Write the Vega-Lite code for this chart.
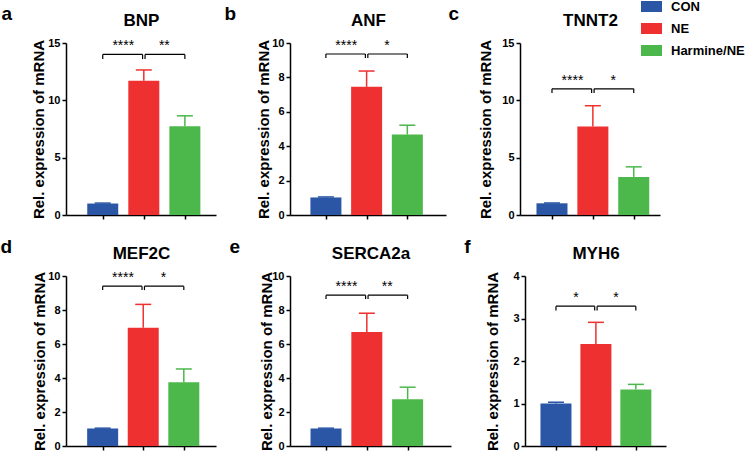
{
  "$schema": "https://vega.github.io/schema/vega-lite/v6.json",
  "padding": {"left": 0, "top": 0, "right": 0, "bottom": 0},
  "spacing": 18,
  "config": {
    "font": "Liberation Sans",
    "view": {"stroke": null},
    "axis": {"domainColor": "#000", "domainWidth": 1.5, "tickColor": "#000", "tickWidth": 1.5, "tickSize": 4, "labelColor": "#000", "labelFont": "Liberation Sans", "labelFontWeight": "bold", "labelFontSize": 11, "labelPadding": 2, "titleColor": "#000", "titleFont": "Liberation Sans", "titleFontWeight": "bold", "titleFontSize": 15, "titlePadding": 5, "grid": false},
    "title": {"orient": "left", "angle": 0, "anchor": "end", "frame": "bounds", "align": "right", "baseline": "top", "offset": 9, "dy": -6, "fontSize": 19, "fontWeight": "bold", "color": "#000", "font": "Liberation Sans"},
    "legend": {"orient": "none", "legendX": 579, "legendY": -43, "padding": 0, "title": null, "symbolType": "M-2,-1.05H2V1.05H-2Z", "symbolSize": 110, "symbolStrokeWidth": 0, "symbolOpacity": 1, "labelFontSize": 13, "labelFontWeight": "bold", "labelColor": "#000", "labelFont": "Liberation Sans", "labelOffset": 13, "rowPadding": 8}
  },
  "datasets": {
    "bars": [
      {"gene": "BNP", "group": "CON", "idx": 1, "mean": 1.0, "upper": 1.04},
      {"gene": "BNP", "group": "NE", "idx": 2, "mean": 11.7, "upper": 12.65},
      {"gene": "BNP", "group": "Harmine/NE", "idx": 3, "mean": 7.75, "upper": 8.65},
      {"gene": "ANF", "group": "CON", "idx": 1, "mean": 1.02, "upper": 1.05},
      {"gene": "ANF", "group": "NE", "idx": 2, "mean": 7.45, "upper": 8.37},
      {"gene": "ANF", "group": "Harmine/NE", "idx": 3, "mean": 4.68, "upper": 5.22},
      {"gene": "TNNT2", "group": "CON", "idx": 1, "mean": 1.02, "upper": 1.05},
      {"gene": "TNNT2", "group": "NE", "idx": 2, "mean": 7.72, "upper": 9.53},
      {"gene": "TNNT2", "group": "Harmine/NE", "idx": 3, "mean": 3.32, "upper": 4.2},
      {"gene": "MEF2C", "group": "CON", "idx": 1, "mean": 1.03, "upper": 1.05},
      {"gene": "MEF2C", "group": "NE", "idx": 2, "mean": 6.95, "upper": 8.33},
      {"gene": "MEF2C", "group": "Harmine/NE", "idx": 3, "mean": 3.75, "upper": 4.53},
      {"gene": "SERCA2a", "group": "CON", "idx": 1, "mean": 1.03, "upper": 1.05},
      {"gene": "SERCA2a", "group": "NE", "idx": 2, "mean": 6.7, "upper": 7.81},
      {"gene": "SERCA2a", "group": "Harmine/NE", "idx": 3, "mean": 2.75, "upper": 3.46},
      {"gene": "MYH6", "group": "CON", "idx": 1, "mean": 1.0, "upper": 1.03},
      {"gene": "MYH6", "group": "NE", "idx": 2, "mean": 2.4, "upper": 2.91},
      {"gene": "MYH6", "group": "Harmine/NE", "idx": 3, "mean": 1.33, "upper": 1.45}
    ],
    "sig": [
      {"gene": "BNP", "a": 1, "b": 1.97, "mid": 1.5, "h": 14.0, "low": 13.6, "label": "****"},
      {"gene": "BNP", "a": 2.03, "b": 3, "mid": 2.5, "h": 14.0, "low": 13.6, "label": "**"},
      {"gene": "ANF", "a": 1, "b": 1.97, "mid": 1.5, "h": 9.36, "low": 9.13, "label": "****"},
      {"gene": "ANF", "a": 2.03, "b": 3, "mid": 2.5, "h": 9.36, "low": 9.13, "label": "*"},
      {"gene": "TNNT2", "a": 1, "b": 1.97, "mid": 1.5, "h": 11.0, "low": 10.65, "label": "****"},
      {"gene": "TNNT2", "a": 2.03, "b": 3, "mid": 2.5, "h": 11.0, "low": 10.65, "label": "*"},
      {"gene": "MEF2C", "a": 1, "b": 1.97, "mid": 1.5, "h": 9.4, "low": 9.17, "label": "****"},
      {"gene": "MEF2C", "a": 2.03, "b": 3, "mid": 2.5, "h": 9.4, "low": 9.17, "label": "*"},
      {"gene": "SERCA2a", "a": 1, "b": 1.97, "mid": 1.5, "h": 8.87, "low": 8.64, "label": "****"},
      {"gene": "SERCA2a", "a": 2.03, "b": 3, "mid": 2.5, "h": 8.87, "low": 8.64, "label": "**"},
      {"gene": "MYH6", "a": 1, "b": 1.97, "mid": 1.5, "h": 3.29, "low": 3.19, "label": "*"},
      {"gene": "MYH6", "a": 2.03, "b": 3, "mid": 2.5, "h": 3.29, "low": 3.19, "label": "*"}
    ]
  },
  "vconcat": [
    {"bounds": "flush", "spacing": 74, "hconcat": [
      {"width": 150, "height": 172, "title": {"text": "a"}, "resolve": {"axis": {"x": "independent", "y": "independent"}},
       "layer": [
        {"data": {"name": "bars"}, "transform": [{"filter": "datum.gene === 'BNP'"}], "mark": {"type": "rule", "strokeWidth": 1.5},
         "encoding": {"x": {"field": "idx", "type": "quantitative", "scale": {"domain": [0.227, 3.636], "nice": false, "zero": false}, "axis": {"orient": "top", "domain": false, "ticks": false, "labels": false, "title": "BNP", "titleFontSize": 17, "titlePadding": 14}},
          "y": {"field": "mean", "type": "quantitative", "scale": {"domain": [0, 15], "nice": false}, "axis": {"values": [0, 5, 10, 15], "title": "Rel. expression of mRNA", "titlePadding": 1}},
          "y2": {"field": "upper"},
          "color": {"field": "group", "type": "nominal", "scale": {"domain": ["CON", "NE", "Harmine/NE"], "range": ["#2a56a5", "#ee3130", "#4cb74a"]}}}},
        {"data": {"name": "bars"}, "transform": [{"filter": "datum.gene === 'BNP'"}], "mark": {"type": "tick", "orient": "horizontal", "size": 16, "thickness": 1.5, "opacity": 1},
         "encoding": {"x": {"field": "idx", "type": "quantitative", "axis": null}, "y": {"field": "upper", "type": "quantitative", "axis": null}, "color": {"field": "group", "type": "nominal"}}},
        {"data": {"name": "bars"}, "transform": [{"filter": "datum.gene === 'BNP'"}], "mark": {"type": "bar", "width": 31},
         "encoding": {"x": {"field": "idx", "type": "quantitative", "axis": {"orient": "bottom", "values": [1, 2, 3], "labels": false, "title": null}}, "y": {"field": "mean", "type": "quantitative", "axis": null}, "color": {"field": "group", "type": "nominal"}}},
        {"data": {"name": "sig"}, "transform": [{"filter": "datum.gene === 'BNP'"}], "mark": {"type": "rule", "strokeWidth": 1.2, "color": "#000"},
         "encoding": {"x": {"field": "a", "type": "quantitative", "axis": null}, "x2": {"field": "b"}, "y": {"field": "h", "type": "quantitative", "axis": null}}},
        {"data": {"name": "sig"}, "transform": [{"filter": "datum.gene === 'BNP'"}], "mark": {"type": "rule", "strokeWidth": 1.2, "color": "#000"},
         "encoding": {"x": {"field": "a", "type": "quantitative", "axis": null}, "y": {"field": "h", "type": "quantitative", "axis": null}, "y2": {"field": "low"}}},
        {"data": {"name": "sig"}, "transform": [{"filter": "datum.gene === 'BNP'"}], "mark": {"type": "rule", "strokeWidth": 1.2, "color": "#000"},
         "encoding": {"x": {"field": "b", "type": "quantitative", "axis": null}, "y": {"field": "h", "type": "quantitative", "axis": null}, "y2": {"field": "low"}}},
        {"data": {"name": "sig"}, "transform": [{"filter": "datum.gene === 'BNP'"}], "mark": {"type": "text", "fontSize": 14, "baseline": "bottom", "dy": -1, "color": "#000"},
         "encoding": {"x": {"field": "mid", "type": "quantitative", "axis": null}, "y": {"field": "h", "type": "quantitative", "axis": null}, "text": {"field": "label"}}}
       ]},
      {"width": 156, "height": 172, "title": {"text": "b"}, "resolve": {"axis": {"x": "independent", "y": "independent"}},
       "layer": [
        {"data": {"name": "bars"}, "transform": [{"filter": "datum.gene === 'ANF'"}], "mark": {"type": "rule", "strokeWidth": 1.5},
         "encoding": {"x": {"field": "idx", "type": "quantitative", "scale": {"domain": [0.241, 3.827], "nice": false, "zero": false}, "axis": {"orient": "top", "domain": false, "ticks": false, "labels": false, "title": "ANF", "titleFontSize": 17, "titlePadding": 14}},
          "y": {"field": "mean", "type": "quantitative", "scale": {"domain": [0, 10], "nice": false}, "axis": {"values": [0, 2, 4, 6, 8, 10], "title": "Rel. expression of mRNA", "titlePadding": 0}},
          "y2": {"field": "upper"},
          "color": {"field": "group", "type": "nominal", "scale": {"domain": ["CON", "NE", "Harmine/NE"], "range": ["#2a56a5", "#ee3130", "#4cb74a"]}}}},
        {"data": {"name": "bars"}, "transform": [{"filter": "datum.gene === 'ANF'"}], "mark": {"type": "tick", "orient": "horizontal", "size": 16, "thickness": 1.5, "opacity": 1},
         "encoding": {"x": {"field": "idx", "type": "quantitative", "axis": null}, "y": {"field": "upper", "type": "quantitative", "axis": null}, "color": {"field": "group", "type": "nominal"}}},
        {"data": {"name": "bars"}, "transform": [{"filter": "datum.gene === 'ANF'"}], "mark": {"type": "bar", "width": 31},
         "encoding": {"x": {"field": "idx", "type": "quantitative", "axis": {"orient": "bottom", "values": [1, 2, 3], "labels": false, "title": null}}, "y": {"field": "mean", "type": "quantitative", "axis": null}, "color": {"field": "group", "type": "nominal"}}},
        {"data": {"name": "sig"}, "transform": [{"filter": "datum.gene === 'ANF'"}], "mark": {"type": "rule", "strokeWidth": 1.2, "color": "#000"},
         "encoding": {"x": {"field": "a", "type": "quantitative", "axis": null}, "x2": {"field": "b"}, "y": {"field": "h", "type": "quantitative", "axis": null}}},
        {"data": {"name": "sig"}, "transform": [{"filter": "datum.gene === 'ANF'"}], "mark": {"type": "rule", "strokeWidth": 1.2, "color": "#000"},
         "encoding": {"x": {"field": "a", "type": "quantitative", "axis": null}, "y": {"field": "h", "type": "quantitative", "axis": null}, "y2": {"field": "low"}}},
        {"data": {"name": "sig"}, "transform": [{"filter": "datum.gene === 'ANF'"}], "mark": {"type": "rule", "strokeWidth": 1.2, "color": "#000"},
         "encoding": {"x": {"field": "b", "type": "quantitative", "axis": null}, "y": {"field": "h", "type": "quantitative", "axis": null}, "y2": {"field": "low"}}},
        {"data": {"name": "sig"}, "transform": [{"filter": "datum.gene === 'ANF'"}], "mark": {"type": "text", "fontSize": 14, "baseline": "bottom", "dy": -1, "color": "#000"},
         "encoding": {"x": {"field": "mid", "type": "quantitative", "axis": null}, "y": {"field": "h", "type": "quantitative", "axis": null}, "text": {"field": "label"}}}
       ]},
      {"width": 140, "height": 172, "title": {"text": "c"}, "resolve": {"axis": {"x": "independent", "y": "independent"}},
       "layer": [
        {"data": {"name": "bars"}, "transform": [{"filter": "datum.gene === 'TNNT2'"}], "mark": {"type": "rule", "strokeWidth": 1.5},
         "encoding": {"x": {"field": "idx", "type": "quantitative", "scale": {"domain": [0.34, 3.52], "nice": false, "zero": false}, "axis": {"orient": "top", "domain": false, "ticks": false, "labels": false, "title": "TNNT2", "titleFontSize": 17, "titlePadding": 14}},
          "y": {"field": "mean", "type": "quantitative", "scale": {"domain": [0, 15], "nice": false}, "axis": {"values": [0, 5, 10, 15], "title": "Rel. expression of mRNA", "titlePadding": 8}},
          "y2": {"field": "upper"},
          "color": {"field": "group", "type": "nominal", "scale": {"domain": ["CON", "NE", "Harmine/NE"], "range": ["#2a56a5", "#ee3130", "#4cb74a"]}}}},
        {"data": {"name": "bars"}, "transform": [{"filter": "datum.gene === 'TNNT2'"}], "mark": {"type": "tick", "orient": "horizontal", "size": 16, "thickness": 1.5, "opacity": 1},
         "encoding": {"x": {"field": "idx", "type": "quantitative", "axis": null}, "y": {"field": "upper", "type": "quantitative", "axis": null}, "color": {"field": "group", "type": "nominal"}}},
        {"data": {"name": "bars"}, "transform": [{"filter": "datum.gene === 'TNNT2'"}], "mark": {"type": "bar", "width": 31},
         "encoding": {"x": {"field": "idx", "type": "quantitative", "axis": {"orient": "bottom", "values": [1, 2, 3], "labels": false, "title": null}}, "y": {"field": "mean", "type": "quantitative", "axis": null}, "color": {"field": "group", "type": "nominal"}}},
        {"data": {"name": "sig"}, "transform": [{"filter": "datum.gene === 'TNNT2'"}], "mark": {"type": "rule", "strokeWidth": 1.2, "color": "#000"},
         "encoding": {"x": {"field": "a", "type": "quantitative", "axis": null}, "x2": {"field": "b"}, "y": {"field": "h", "type": "quantitative", "axis": null}}},
        {"data": {"name": "sig"}, "transform": [{"filter": "datum.gene === 'TNNT2'"}], "mark": {"type": "rule", "strokeWidth": 1.2, "color": "#000"},
         "encoding": {"x": {"field": "a", "type": "quantitative", "axis": null}, "y": {"field": "h", "type": "quantitative", "axis": null}, "y2": {"field": "low"}}},
        {"data": {"name": "sig"}, "transform": [{"filter": "datum.gene === 'TNNT2'"}], "mark": {"type": "rule", "strokeWidth": 1.2, "color": "#000"},
         "encoding": {"x": {"field": "b", "type": "quantitative", "axis": null}, "y": {"field": "h", "type": "quantitative", "axis": null}, "y2": {"field": "low"}}},
        {"data": {"name": "sig"}, "transform": [{"filter": "datum.gene === 'TNNT2'"}], "mark": {"type": "text", "fontSize": 14, "baseline": "bottom", "dy": -1, "color": "#000"},
         "encoding": {"x": {"field": "mid", "type": "quantitative", "axis": null}, "y": {"field": "h", "type": "quantitative", "axis": null}, "text": {"field": "label"}}}
       ]}
    ]},
    {"bounds": "flush", "spacing": 74, "hconcat": [
      {"width": 150, "height": 170, "title": {"text": "d"}, "resolve": {"axis": {"x": "independent", "y": "independent"}},
       "layer": [
        {"data": {"name": "bars"}, "transform": [{"filter": "datum.gene === 'MEF2C'"}], "mark": {"type": "rule", "strokeWidth": 1.5},
         "encoding": {"x": {"field": "idx", "type": "quantitative", "scale": {"domain": [0.22, 3.67], "nice": false, "zero": false}, "axis": {"orient": "top", "domain": false, "ticks": false, "labels": false, "title": "MEF2C", "titleFontSize": 17, "titlePadding": 14}},
          "y": {"field": "mean", "type": "quantitative", "scale": {"domain": [0, 10], "nice": false}, "axis": {"values": [0, 2, 4, 6, 8, 10], "title": "Rel. expression of mRNA", "titlePadding": 0}},
          "y2": {"field": "upper"},
          "color": {"field": "group", "type": "nominal", "scale": {"domain": ["CON", "NE", "Harmine/NE"], "range": ["#2a56a5", "#ee3130", "#4cb74a"]}}}},
        {"data": {"name": "bars"}, "transform": [{"filter": "datum.gene === 'MEF2C'"}], "mark": {"type": "tick", "orient": "horizontal", "size": 16, "thickness": 1.5, "opacity": 1},
         "encoding": {"x": {"field": "idx", "type": "quantitative", "axis": null}, "y": {"field": "upper", "type": "quantitative", "axis": null}, "color": {"field": "group", "type": "nominal"}}},
        {"data": {"name": "bars"}, "transform": [{"filter": "datum.gene === 'MEF2C'"}], "mark": {"type": "bar", "width": 31},
         "encoding": {"x": {"field": "idx", "type": "quantitative", "axis": {"orient": "bottom", "values": [1, 2, 3], "labels": false, "title": null}}, "y": {"field": "mean", "type": "quantitative", "axis": null}, "color": {"field": "group", "type": "nominal"}}},
        {"data": {"name": "sig"}, "transform": [{"filter": "datum.gene === 'MEF2C'"}], "mark": {"type": "rule", "strokeWidth": 1.2, "color": "#000"},
         "encoding": {"x": {"field": "a", "type": "quantitative", "axis": null}, "x2": {"field": "b"}, "y": {"field": "h", "type": "quantitative", "axis": null}}},
        {"data": {"name": "sig"}, "transform": [{"filter": "datum.gene === 'MEF2C'"}], "mark": {"type": "rule", "strokeWidth": 1.2, "color": "#000"},
         "encoding": {"x": {"field": "a", "type": "quantitative", "axis": null}, "y": {"field": "h", "type": "quantitative", "axis": null}, "y2": {"field": "low"}}},
        {"data": {"name": "sig"}, "transform": [{"filter": "datum.gene === 'MEF2C'"}], "mark": {"type": "rule", "strokeWidth": 1.2, "color": "#000"},
         "encoding": {"x": {"field": "b", "type": "quantitative", "axis": null}, "y": {"field": "h", "type": "quantitative", "axis": null}, "y2": {"field": "low"}}},
        {"data": {"name": "sig"}, "transform": [{"filter": "datum.gene === 'MEF2C'"}], "mark": {"type": "text", "fontSize": 14, "baseline": "bottom", "dy": -1, "color": "#000"},
         "encoding": {"x": {"field": "mid", "type": "quantitative", "axis": null}, "y": {"field": "h", "type": "quantitative", "axis": null}, "text": {"field": "label"}}}
       ]},
      {"width": 161, "height": 170, "title": {"text": "e"}, "resolve": {"axis": {"x": "independent", "y": "independent"}},
       "layer": [
        {"data": {"name": "bars"}, "transform": [{"filter": "datum.gene === 'SERCA2a'"}], "mark": {"type": "rule", "strokeWidth": 1.5},
         "encoding": {"x": {"field": "idx", "type": "quantitative", "scale": {"domain": [0.24, 3.94], "nice": false, "zero": false}, "axis": {"orient": "top", "domain": false, "ticks": false, "labels": false, "title": "SERCA2a", "titleFontSize": 17, "titlePadding": 14}},
          "y": {"field": "mean", "type": "quantitative", "scale": {"domain": [0, 10], "nice": false}, "axis": {"values": [0, 2, 4, 6, 8, 10], "title": "Rel. expression of mRNA", "titlePadding": -3}},
          "y2": {"field": "upper"},
          "color": {"field": "group", "type": "nominal", "scale": {"domain": ["CON", "NE", "Harmine/NE"], "range": ["#2a56a5", "#ee3130", "#4cb74a"]}}}},
        {"data": {"name": "bars"}, "transform": [{"filter": "datum.gene === 'SERCA2a'"}], "mark": {"type": "tick", "orient": "horizontal", "size": 16, "thickness": 1.5, "opacity": 1},
         "encoding": {"x": {"field": "idx", "type": "quantitative", "axis": null}, "y": {"field": "upper", "type": "quantitative", "axis": null}, "color": {"field": "group", "type": "nominal"}}},
        {"data": {"name": "bars"}, "transform": [{"filter": "datum.gene === 'SERCA2a'"}], "mark": {"type": "bar", "width": 31},
         "encoding": {"x": {"field": "idx", "type": "quantitative", "axis": {"orient": "bottom", "values": [1, 2, 3], "labels": false, "title": null}}, "y": {"field": "mean", "type": "quantitative", "axis": null}, "color": {"field": "group", "type": "nominal"}}},
        {"data": {"name": "sig"}, "transform": [{"filter": "datum.gene === 'SERCA2a'"}], "mark": {"type": "rule", "strokeWidth": 1.2, "color": "#000"},
         "encoding": {"x": {"field": "a", "type": "quantitative", "axis": null}, "x2": {"field": "b"}, "y": {"field": "h", "type": "quantitative", "axis": null}}},
        {"data": {"name": "sig"}, "transform": [{"filter": "datum.gene === 'SERCA2a'"}], "mark": {"type": "rule", "strokeWidth": 1.2, "color": "#000"},
         "encoding": {"x": {"field": "a", "type": "quantitative", "axis": null}, "y": {"field": "h", "type": "quantitative", "axis": null}, "y2": {"field": "low"}}},
        {"data": {"name": "sig"}, "transform": [{"filter": "datum.gene === 'SERCA2a'"}], "mark": {"type": "rule", "strokeWidth": 1.2, "color": "#000"},
         "encoding": {"x": {"field": "b", "type": "quantitative", "axis": null}, "y": {"field": "h", "type": "quantitative", "axis": null}, "y2": {"field": "low"}}},
        {"data": {"name": "sig"}, "transform": [{"filter": "datum.gene === 'SERCA2a'"}], "mark": {"type": "text", "fontSize": 14, "baseline": "bottom", "dy": -1, "color": "#000"},
         "encoding": {"x": {"field": "mid", "type": "quantitative", "axis": null}, "y": {"field": "h", "type": "quantitative", "axis": null}, "text": {"field": "label"}}}
       ]},
      {"width": 141, "height": 170, "title": {"text": "f"}, "resolve": {"axis": {"x": "independent", "y": "independent"}},
       "layer": [
        {"data": {"name": "bars"}, "transform": [{"filter": "datum.gene === 'MYH6'"}], "mark": {"type": "rule", "strokeWidth": 1.5},
         "encoding": {"x": {"field": "idx", "type": "quantitative", "scale": {"domain": [0.35, 3.63], "nice": false, "zero": false}, "axis": {"orient": "top", "domain": false, "ticks": false, "labels": false, "title": "MYH6", "titleFontSize": 17, "titlePadding": 14}},
          "y": {"field": "mean", "type": "quantitative", "scale": {"domain": [0, 4], "nice": false}, "axis": {"values": [0, 1, 2, 3, 4], "title": "Rel. expression of mRNA", "titlePadding": 12}},
          "y2": {"field": "upper"},
          "color": {"field": "group", "type": "nominal", "scale": {"domain": ["CON", "NE", "Harmine/NE"], "range": ["#2a56a5", "#ee3130", "#4cb74a"]}}}},
        {"data": {"name": "bars"}, "transform": [{"filter": "datum.gene === 'MYH6'"}], "mark": {"type": "tick", "orient": "horizontal", "size": 16, "thickness": 1.5, "opacity": 1},
         "encoding": {"x": {"field": "idx", "type": "quantitative", "axis": null}, "y": {"field": "upper", "type": "quantitative", "axis": null}, "color": {"field": "group", "type": "nominal"}}},
        {"data": {"name": "bars"}, "transform": [{"filter": "datum.gene === 'MYH6'"}], "mark": {"type": "bar", "width": 31},
         "encoding": {"x": {"field": "idx", "type": "quantitative", "axis": {"orient": "bottom", "values": [1, 2, 3], "labels": false, "title": null}}, "y": {"field": "mean", "type": "quantitative", "axis": null}, "color": {"field": "group", "type": "nominal"}}},
        {"data": {"name": "sig"}, "transform": [{"filter": "datum.gene === 'MYH6'"}], "mark": {"type": "rule", "strokeWidth": 1.2, "color": "#000"},
         "encoding": {"x": {"field": "a", "type": "quantitative", "axis": null}, "x2": {"field": "b"}, "y": {"field": "h", "type": "quantitative", "axis": null}}},
        {"data": {"name": "sig"}, "transform": [{"filter": "datum.gene === 'MYH6'"}], "mark": {"type": "rule", "strokeWidth": 1.2, "color": "#000"},
         "encoding": {"x": {"field": "a", "type": "quantitative", "axis": null}, "y": {"field": "h", "type": "quantitative", "axis": null}, "y2": {"field": "low"}}},
        {"data": {"name": "sig"}, "transform": [{"filter": "datum.gene === 'MYH6'"}], "mark": {"type": "rule", "strokeWidth": 1.2, "color": "#000"},
         "encoding": {"x": {"field": "b", "type": "quantitative", "axis": null}, "y": {"field": "h", "type": "quantitative", "axis": null}, "y2": {"field": "low"}}},
        {"data": {"name": "sig"}, "transform": [{"filter": "datum.gene === 'MYH6'"}], "mark": {"type": "text", "fontSize": 14, "baseline": "bottom", "dy": -1, "color": "#000"},
         "encoding": {"x": {"field": "mid", "type": "quantitative", "axis": null}, "y": {"field": "h", "type": "quantitative", "axis": null}, "text": {"field": "label"}}}
       ]}
    ]}
  ]
}
